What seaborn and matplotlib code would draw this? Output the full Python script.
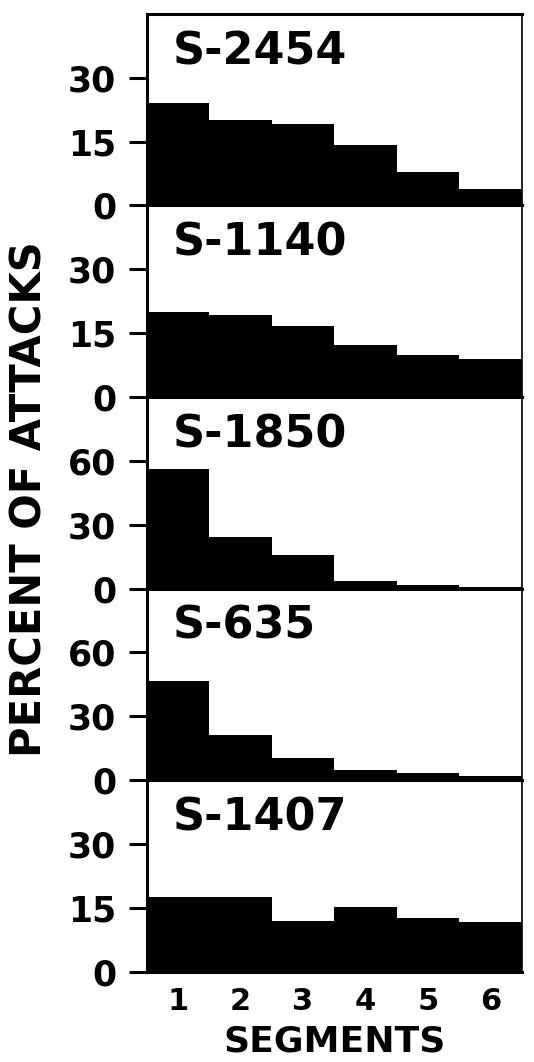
import matplotlib
matplotlib.use("Agg")
import matplotlib.pyplot as plt
import seaborn as sns
import pandas as pd

# ---- data ----
segments = [1, 2, 3, 4, 5, 6]
subjects = ["S-2454", "S-1140", "S-1850", "S-635", "S-1407"]
s2454 = [24.0, 20.0, 19.0, 14.2, 7.8, 3.8]
s1140 = [20.0, 19.2, 16.6, 12.2, 9.8, 9.0]
s1850 = [56.0, 24.0, 16.0, 3.5, 1.9, 0.8]
s635 = [46.6, 21.2, 10.4, 4.6, 3.4, 2.0]
s1407 = [17.5, 17.5, 12.0, 15.1, 12.6, 11.6]
series = [s2454, s1140, s1850, s635, s1407]
yticks_small = [0, 15, 30]
yticks_large = [0, 30, 60]
ylims = [45, 45, 90, 90, 45]
ytick_sets = [yticks_small, yticks_small, yticks_large, yticks_large, yticks_small]

sns.set_theme(style="white")
plt.rcParams["font.family"] = ["DejaVu Sans"]
plt.rcParams["text.color"] = "black"
plt.rcParams["axes.labelcolor"] = "black"
plt.rcParams["xtick.color"] = "black"
plt.rcParams["ytick.color"] = "black"

fig, axes = plt.subplots(5, 1, figsize=(5.34, 10.62), dpi=100, sharex=True,
                         gridspec_kw=dict(hspace=0))
fig.subplots_adjust(left=0.275, right=0.977, top=0.987, bottom=0.085)

for ax, name, vals, ylim, yt in zip(axes, subjects, series, ylims, ytick_sets):
    df = pd.DataFrame({"segment": segments, "percent": vals})
    sns.barplot(data=df, x="segment", y="percent", color="black", width=1.0,
                saturation=1, linewidth=0, ax=ax)
    ax.set_xlim(-0.5, 5.5)
    ax.set_ylim(0, ylim)
    ax.set_yticks(yt)
    ax.set_yticklabels([str(t) for t in yt], fontsize=25, fontweight="bold",
                       color="black")
    ax.set_ylabel("")
    ax.set_xlabel("")
    for sp in ax.spines.values():
        sp.set_color("black")
        sp.set_linewidth(2.2)
    ax.spines["right"].set_linewidth(1.2)
    ax.tick_params(axis="y", direction="out", length=13, width=2.2,
                   pad=9, colors="black", left=True)
    ax.tick_params(axis="x", length=0, pad=11, colors="black")
    ax.text(0.07, 0.915, name, transform=ax.transAxes, ha="left", va="top",
            fontsize=32, fontweight="bold", color="black")

bottom = axes[-1]
bottom.set_xticks(range(len(segments)))
bottom.set_xticklabels([str(s) for s in segments], fontsize=22, fontweight="bold",
                       color="black")
bottom.set_xlabel("SEGMENTS", fontsize=26, fontweight="bold", labelpad=6,
                  color="black")

fig.text(0.056, 0.53, "PERCENT OF ATTACKS", rotation=90, ha="center", va="center",
         fontsize=30, fontweight="bold", color="black")

fig.savefig("out.png", dpi=100, facecolor="white")
